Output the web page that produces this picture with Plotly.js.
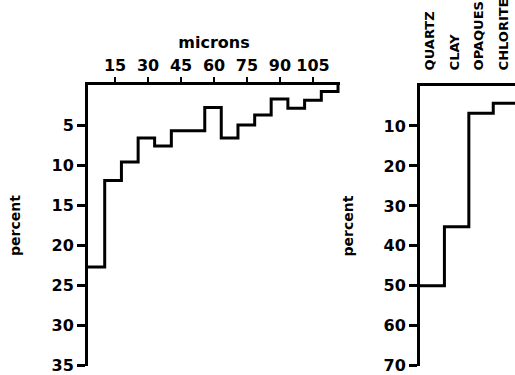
<!DOCTYPE html>
<html>
<head>
<meta charset="utf-8">
<script src="https://cdn.plot.ly/plotly-3.0.1.min.js"></script>
<style>
  html, body { margin: 0; padding: 0; background: #fff; }
  #chart { width: 515px; height: 375px; }
</style>
</head>
<body>
<div id="chart"></div>
<script>
// ---- Left panel: grain-size histogram (microns vs percent) ----
const binEdgesMicrons = [2.7, 10.3, 17.9, 25.5, 33.0, 40.6, 48.2, 55.8, 63.3, 70.9, 78.5, 86.0, 93.6, 101.2, 108.8, 116.4];
const binPercent = [22.7, 11.9, 9.6, 6.6, 7.6, 5.7, 5.7, 2.8, 6.6, 5.0, 3.75, 1.75, 2.9, 1.9, 0.8];
const micronTicks = [15, 30, 45, 60, 75, 90, 105];
const leftPercentTicks = [5, 10, 15, 20, 25, 30, 35];

// ---- Right panel: mineral composition ----
const minerals = ['QUARTZ', 'CLAY', 'OPAQUES', 'CHLORITE'];
const mineralPercent = [50, 35.2, 6.8, 4.3];
const rightPercentTicks = [10, 20, 30, 40, 50, 60, 70];

const FONT = 'DejaVu Sans, Verdana, sans-serif';
const W = 515, H = 375;

// step outline: each bin drawn from its left edge, closing back to the axis at the end
const leftX = binEdgesMicrons.slice();
const leftY = binPercent.concat([0]);

const rightX = minerals.map((m, i) => i).concat([minerals.length]);
const rightY = mineralPercent.concat([mineralPercent[mineralPercent.length - 1]]);

const traces = [
  {
    x: leftX, y: leftY, xaxis: 'x', yaxis: 'y',
    type: 'scatter', mode: 'lines',
    line: { shape: 'hv', color: '#000', width: 3 },
    hoverinfo: 'skip', showlegend: false
  },
  {
    x: rightX, y: rightY, xaxis: 'x2', yaxis: 'y2',
    type: 'scatter', mode: 'lines',
    line: { shape: 'hv', color: '#000', width: 3 },
    hoverinfo: 'skip', showlegend: false
  }
];

const tickFont = { family: FONT, size: 16, color: '#000', weight: 700 };
const titleFont = { family: FONT, size: 14, color: '#000', weight: 700 };

const layout = {
  width: W, height: H,
  margin: { l: 0, r: 0, t: 0, b: 0 },
  paper_bgcolor: '#fff', plot_bgcolor: 'rgba(0,0,0,0)',
  showlegend: false,
  xaxis: {
    domain: [88 / W, 340 / W], range: [2.7, 117.3], side: 'top', anchor: 'y',
    showline: true, linewidth: 3, linecolor: '#000',
    ticks: 'outside', ticklen: 5, tickwidth: 2, tickcolor: '#000',
    tickvals: micronTicks, tickfont: tickFont,
    showgrid: false, zeroline: false, fixedrange: true,
    title: { text: 'microns', font: tickFont, standoff: 3 }
  },
  yaxis: {
    domain: [1 - 366 / H, 1 - 85 / H], range: [35.03, 0], anchor: 'x',
    showline: true, linewidth: 3, linecolor: '#000',
    ticks: 'outside', ticklen: 8, tickwidth: 3, tickcolor: '#000',
    tickvals: leftPercentTicks, tickfont: tickFont, ticklabeloverflow: 'allow',
    showgrid: false, zeroline: false, fixedrange: true,
    title: { text: 'percent', font: titleFont, standoff: 28 }
  },
  xaxis2: {
    domain: [420 / W, 1], range: [0, 3.89], side: 'top', anchor: 'y2',
    showline: true, linewidth: 3, linecolor: '#000',
    ticks: '', tickvals: minerals.map((m, i) => i + 0.42), ticktext: minerals,
    tickangle: -90, ticklabelstandoff: 10, ticklabeloverflow: 'allow',
    tickfont: { family: FONT, size: 13, color: '#000', weight: 700 },
    showgrid: false, zeroline: false, fixedrange: true
  },
  yaxis2: {
    domain: [1 - 366 / H, 1 - 86 / H], range: [70.06, 0], anchor: 'x2',
    showline: true, linewidth: 3, linecolor: '#000',
    ticks: 'outside', ticklen: 8, tickwidth: 3, tickcolor: '#000',
    tickvals: rightPercentTicks, tickfont: tickFont, ticklabeloverflow: 'allow',
    showgrid: false, zeroline: false, fixedrange: true,
    title: { text: 'percent', font: titleFont, standoff: 27 }
  }
};

Plotly.newPlot('chart', traces, layout, { staticPlot: true, displayModeBar: false });
</script>
</body>
</html>
